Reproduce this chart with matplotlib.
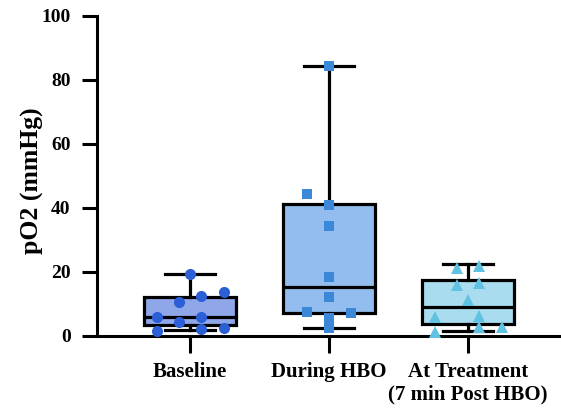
import numpy as np
import matplotlib.pyplot as plt

plt.rcParams['font.family'] = ['Liberation Serif', 'DejaVu Serif']
plt.rcParams['font.weight'] = 'bold'

# groups
labels = ['Baseline', 'During HBO', 'At Treatment\n(7 min Post HBO)']

# box summary (min, q1, median, q3, max)
whis_lo = [1.9, 2.6, 1.7]
q1 = [3.4, 7.3, 3.6]
medians = [6.0, 15.2, 9.0]
q3 = [12.3, 41.3, 17.5]
whis_hi = [19.4, 84.4, 22.4]

# individual measurements (offset from centre, value)
baseline_dx = [0.0, -0.08, 0.08, 0.24, -0.24, -0.08, 0.08, -0.24, 0.08, 0.24]
baseline_y = [19.4, 10.7, 12.5, 13.7, 6.0, 4.5, 6.0, 1.7, 2.2, 2.6]
during_dx = [0.0, -0.16, 0.0, 0.0, 0.0, 0.0, -0.16, 0.16, 0.0, 0.0]
during_y = [84.4, 44.3, 40.9, 34.4, 18.3, 12.3, 7.6, 7.1, 5.5, 2.5]
treat_dx = [-0.08, 0.08, -0.08, 0.08, 0.0, -0.24, 0.08, -0.24, 0.08, 0.24]
treat_y = [21.1, 21.9, 15.9, 16.5, 11.3, 6.0, 6.3, 1.4, 2.9, 2.9]

box_colors = ['#8fa7e9', '#93bdee', '#a9dcef']
pt_colors = ['#2b5fd6', '#3b88d8', '#5fc2e3']
markers = ['o', 's', '^']

fig = plt.figure(figsize=(5.61, 4.08), dpi=100)
ax = fig.add_axes([0.173, 0.1765, 0.825, 0.7845])

stats = []
for i in range(3):
	stats.append({'whislo': whis_lo[i], 'q1': q1[i], 'med': medians[i],
				  'q3': q3[i], 'whishi': whis_hi[i], 'fliers': []})

lw = 2.3
bp = ax.bxp(stats, positions=[0, 1, 2], widths=0.66, patch_artist=True,
			showfliers=False,
			boxprops=dict(linewidth=lw, edgecolor='black'),
			medianprops=dict(linewidth=lw, color='black'),
			whiskerprops=dict(linewidth=lw, color='black'),
			capprops=dict(linewidth=lw, color='black'),
			capwidths=0.36)
for patch, c in zip(bp['boxes'], box_colors):
	patch.set_facecolor(c)

pts = [(baseline_dx, baseline_y), (during_dx, during_y), (treat_dx, treat_y)]
for i, (dx, yv) in enumerate(pts):
	ax.plot(np.array(dx) + i, yv, linestyle='none', marker=markers[i],
			color=pt_colors[i], markersize=8 if i != 1 else 7.2,
			markeredgewidth=0, zorder=5, clip_on=False)

ax.set_xlim(-0.67, 2.66)
ax.set_ylim(0, 100)
ax.set_yticks([0, 20, 40, 60, 80, 100])
ax.set_xticks([0, 1, 2])
ax.set_xticklabels(labels, fontsize=15, fontweight='bold', linespacing=1.2)
for t in ax.get_yticklabels():
	t.set_fontsize(14)
	t.set_fontweight('bold')
ax.set_ylabel('pO2 (mmHg)', fontsize=18.5, fontweight='bold', labelpad=3)
ax.yaxis.set_label_coords(-0.115, 0.485)

for s in ['top', 'right']:
	ax.spines[s].set_visible(False)
for s in ['left', 'bottom']:
	ax.spines[s].set_linewidth(2.2)
ax.tick_params(axis='both', width=2.2)
ax.tick_params(axis='y', length=11, pad=8)
ax.tick_params(axis='x', length=12, pad=6.5)

fig.savefig('out.png', dpi=100)
